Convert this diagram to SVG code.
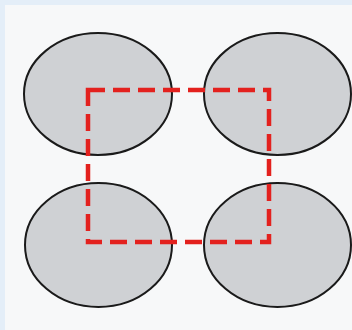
<svg xmlns="http://www.w3.org/2000/svg" width="352" height="330" viewBox="0 0 352 330">
<style>
.bg{fill:#f7f8f9}
.ell{fill:#cfd1d4;stroke:#1a1a1a;stroke-width:2}
.sq{fill:none;stroke:#e3211e;stroke-width:4.5;stroke-dasharray:17 8}
</style>
<rect width="352" height="330" fill="#e4eef8"/>
<rect x="5" y="5" width="347" height="325" class="bg"/>
<g id="node-tl"><ellipse cx="98" cy="94" rx="74" ry="61" class="ell"/></g>
<g id="node-tr"><ellipse cx="277.5" cy="94" rx="73.5" ry="61" class="ell"/></g>
<g id="node-bl"><ellipse cx="98.5" cy="245" rx="73.5" ry="62" class="ell"/></g>
<g id="node-br"><ellipse cx="277.5" cy="245" rx="73.5" ry="62" class="ell"/></g>
<g id="connectors">
<path d="M88 90 H269 V242 H88 Z" class="sq"/>
</g>
</svg>
